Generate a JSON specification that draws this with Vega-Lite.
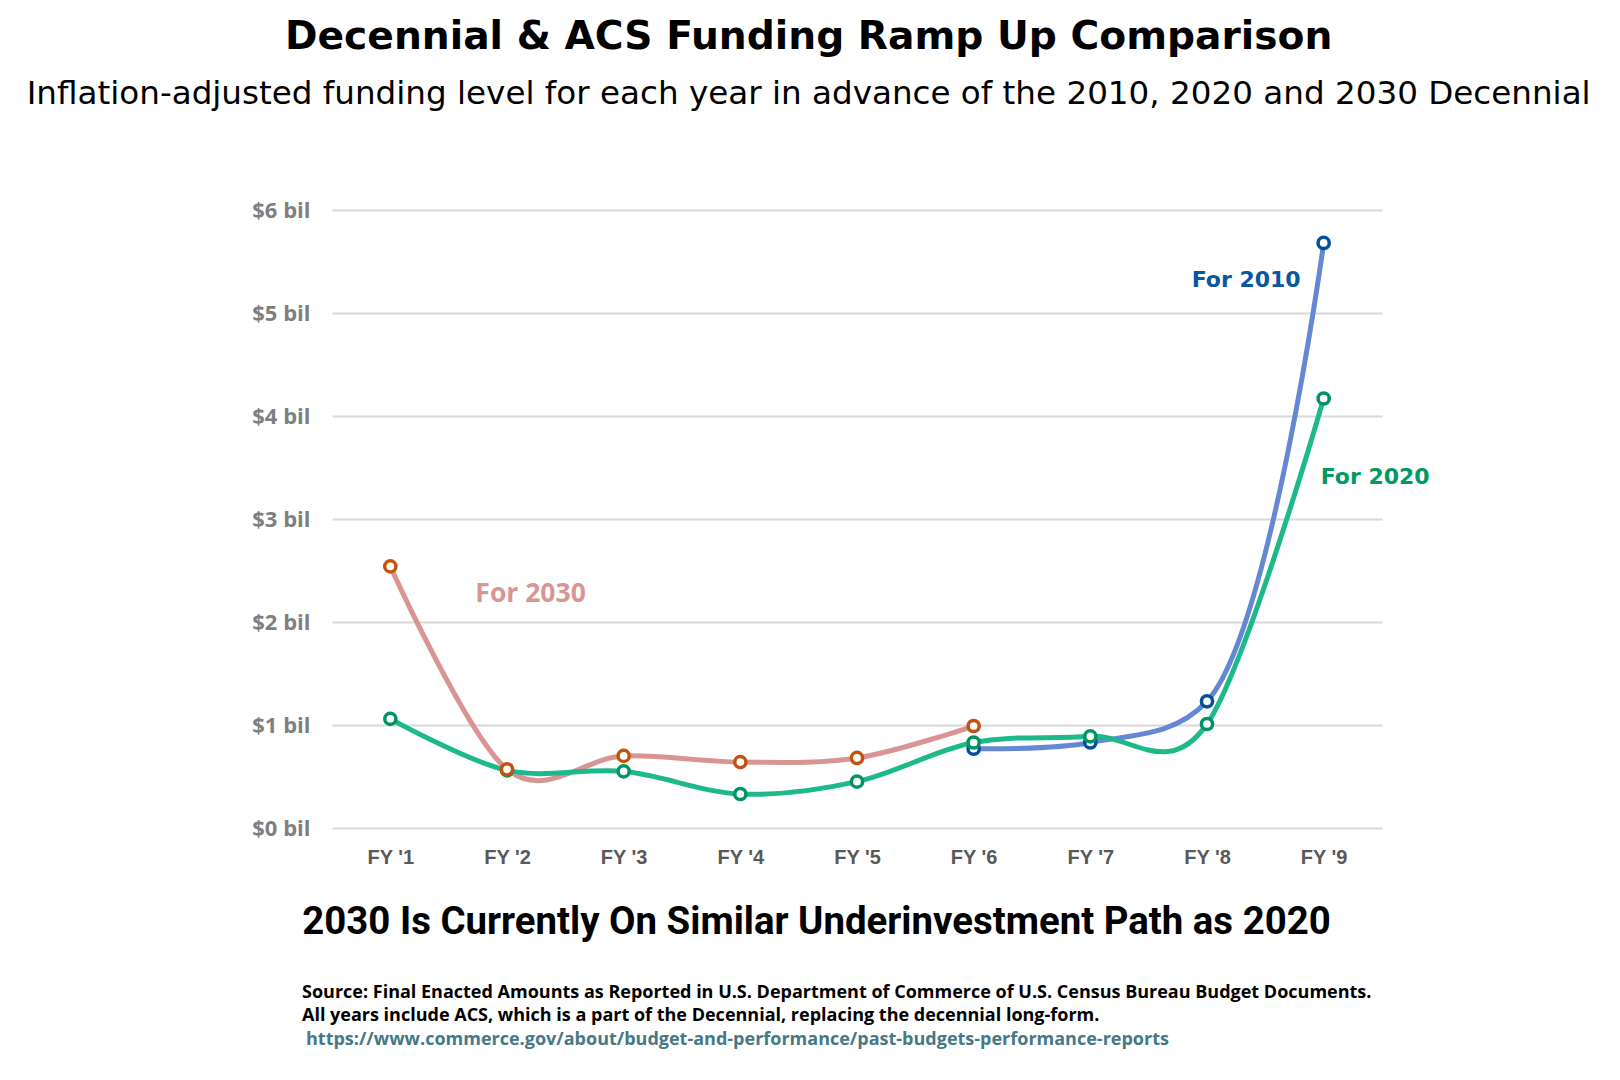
{
  "$schema": "https://vega.github.io/schema/vega-lite/v6.json",
  "background": "white",
  "padding": {"left": 26, "top": 18, "right": 10, "bottom": 10},
  "title": {
    "text": "Decennial & ACS Funding Ramp Up Comparison",
    "subtitle": "Inflation-adjusted funding level for each year in advance of the 2010, 2020 and 2030 Decennial",
    "font": "DejaVu Sans",
    "fontSize": 39.2,
    "fontWeight": "bold",
    "color": "#000000",
    "subtitleFont": "DejaVu Sans",
    "subtitleFontSize": 32.6,
    "subtitleFontWeight": "normal",
    "subtitleColor": "#000000",
    "subtitlePadding": 21,
    "anchor": "middle",
    "dx": -32,
    "offset": 88
  },
  "datasets": {
    "funding": [
      {"series": "For 2010", "year": "FY '6", "value": 0.77},
      {"series": "For 2010", "year": "FY '7", "value": 0.83},
      {"series": "For 2010", "year": "FY '8", "value": 1.23},
      {"series": "For 2010", "year": "FY '9", "value": 5.68},
      {"series": "For 2020", "year": "FY '1", "value": 1.06},
      {"series": "For 2020", "year": "FY '2", "value": 0.56},
      {"series": "For 2020", "year": "FY '3", "value": 0.55},
      {"series": "For 2020", "year": "FY '4", "value": 0.33},
      {"series": "For 2020", "year": "FY '5", "value": 0.45},
      {"series": "For 2020", "year": "FY '6", "value": 0.83},
      {"series": "For 2020", "year": "FY '7", "value": 0.89},
      {"series": "For 2020", "year": "FY '8", "value": 1.01},
      {"series": "For 2020", "year": "FY '9", "value": 4.17},
      {"series": "For 2030", "year": "FY '1", "value": 2.54},
      {"series": "For 2030", "year": "FY '2", "value": 0.57},
      {"series": "For 2030", "year": "FY '3", "value": 0.70},
      {"series": "For 2030", "year": "FY '4", "value": 0.64},
      {"series": "For 2030", "year": "FY '5", "value": 0.68},
      {"series": "For 2030", "year": "FY '6", "value": 0.99}
    ]
  },
  "spacing": 42,
  "vconcat": [
    {
      "width": 1050,
      "height": 618,
      "data": {"name": "funding"},
      "encoding": {
        "x": {
          "field": "year",
          "type": "ordinal",
          "sort": ["FY '1", "FY '2", "FY '3", "FY '4", "FY '5", "FY '6", "FY '7", "FY '8", "FY '9"],
          "axis": {
            "title": "2030 Is Currently On Similar Underinvestment Path as 2020",
            "titleFont": "Roboto",
            "titleFontSize": 38.4,
            "titleFontWeight": "bold",
            "titleColor": "#000000",
            "titleX": 484,
            "titleY": 105,
            "titleBaseline": "alphabetic",
            "labelAngle": 0,
            "domain": false,
            "ticks": false,
            "grid": false,
            "labelPadding": 19,
            "labelFont": "Liberation Sans",
            "labelFontSize": 20,
            "labelFontWeight": "bold",
            "labelColor": "#595959"
          }
        },
        "y": {
          "field": "value",
          "type": "quantitative",
          "scale": {"domain": [0, 6]},
          "axis": {
            "title": null,
            "values": [0, 1, 2, 3, 4, 5, 6],
            "labelExpr": "'$' + datum.value + ' bil'",
            "domain": false,
            "ticks": false,
            "grid": true,
            "gridColor": "#D9D9D9",
            "gridWidth": 2,
            "labelPadding": 22,
            "labelFont": "Open Sans",
            "labelFontSize": 22,
            "labelFontWeight": "bold",
            "labelColor": "#7F7F7F"
          }
        }
      },
      "layer": [
        {
          "transform": [{"filter": {"field": "series", "equal": "For 2010"}}],
          "mark": {"type": "line", "interpolate": "catmull-rom", "color": "#6688D4", "strokeWidth": 5}
        },
        {
          "transform": [{"filter": {"field": "series", "equal": "For 2030"}}],
          "mark": {"type": "line", "interpolate": "cardinal", "color": "#D99594", "strokeWidth": 5}
        },
        {
          "transform": [{"filter": {"field": "series", "equal": "For 2020"}}],
          "mark": {"type": "line", "interpolate": "cardinal", "color": "#1DB98A", "strokeWidth": 5}
        },
        {
          "mark": {"type": "circle", "fill": "white", "fillOpacity": 1, "opacity": 1, "strokeWidth": 3.5, "size": 125},
          "encoding": {
            "stroke": {
              "field": "series",
              "type": "nominal",
              "scale": {"domain": ["For 2010", "For 2020", "For 2030"], "range": ["#00509D", "#00955F", "#C4520F"]},
              "legend": null
            }
          }
        },
        {
          "transform": [{"filter": {"and": [{"field": "series", "equal": "For 2010"}, {"field": "year", "equal": "FY '9"}]}}],
          "mark": {"type": "text", "align": "right", "baseline": "middle", "dx": -23, "dy": 37, "font": "DejaVu Sans", "fontWeight": "bold", "fontSize": 22, "color": "#0A56A0"},
          "encoding": {"text": {"field": "series"}}
        },
        {
          "transform": [{"filter": {"and": [{"field": "series", "equal": "For 2020"}, {"field": "year", "equal": "FY '9"}]}}],
          "mark": {"type": "text", "align": "left", "baseline": "middle", "dx": -3, "dy": 79, "font": "DejaVu Sans", "fontWeight": "bold", "fontSize": 22, "color": "#009A62"},
          "encoding": {"text": {"field": "series"}}
        },
        {
          "transform": [{"filter": {"and": [{"field": "series", "equal": "For 2030"}, {"field": "year", "equal": "FY '1"}]}}],
          "mark": {"type": "text", "align": "left", "baseline": "middle", "dx": 85, "dy": 28, "font": "Open Sans", "fontWeight": "bold", "fontSize": 26.5, "color": "#D99594"},
          "encoding": {"text": {"field": "series"}}
        }
      ]
    },
    {
      "width": 1050,
      "height": {"step": 23.5},
      "layer": [
        {
          "data": {"values": [
            {"n": 1, "line": "Source:  Final Enacted Amounts as Reported in U.S. Department of Commerce of U.S. Census Bureau Budget Documents."},
            {"n": 2, "line": "All years include ACS, which is a part of the Decennial, replacing the decennial long-form."}
          ]},
          "mark": {"type": "text", "align": "left", "baseline": "alphabetic", "dx": -555, "font": "Open Sans", "fontWeight": "bold", "fontSize": 18, "color": "#000000"},
          "encoding": {
            "y": {"field": "n", "type": "ordinal", "axis": null, "scale": {"domain": [1, 2, 3]}},
            "text": {"field": "line"}
          }
        },
        {
          "data": {"values": [
            {"n": 3, "line": "https://www.commerce.gov/about/budget-and-performance/past-budgets-performance-reports"}
          ]},
          "mark": {"type": "text", "align": "left", "baseline": "alphabetic", "dx": -551, "font": "Open Sans", "fontWeight": "bold", "fontSize": 18, "color": "#467886"},
          "encoding": {
            "y": {"field": "n", "type": "ordinal", "axis": null, "scale": {"domain": [1, 2, 3]}},
            "text": {"field": "line"}
          }
        }
      ]
    }
  ],
  "config": {"view": {"stroke": null}}
}
